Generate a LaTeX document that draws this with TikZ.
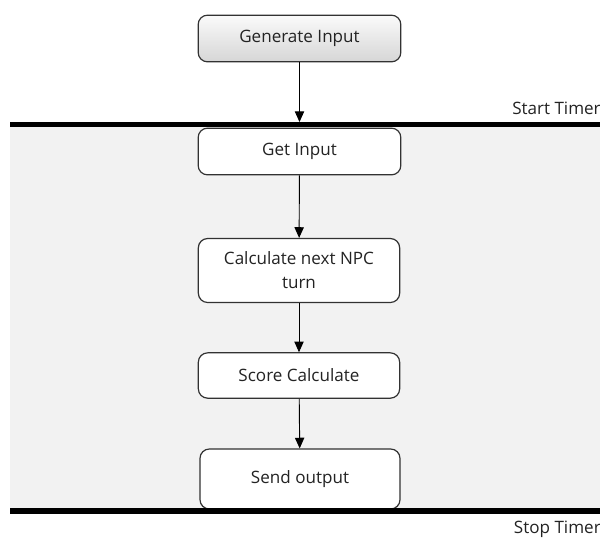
\documentclass[tikz,border=0pt]{standalone}
\usepackage{fontspec}
\setmainfont{Open Sans}
\usepackage{tikz}
\usetikzlibrary{arrows.meta,positioning}
\definecolor{FlowText}{RGB}{35,35,35}
\definecolor{FlowLine}{RGB}{50,50,50}
\definecolor{FlowZone}{RGB}{242,242,242}
\definecolor{FlowTop}{RGB}{250,250,250}
\definecolor{FlowBottom}{RGB}{214,214,214}

\begin{document}
\begin{tikzpicture}[x=0.75pt,y=-0.75pt,
    stepbox/.style={draw=FlowLine, fill=white, line width=0.9pt, rounded corners=7pt,
      minimum width=152pt, minimum height=35pt, align=center, font=\fontsize{12.8}{18}\selectfont, text=FlowText},
    genbox/.style={stepbox, top color=FlowTop, bottom color=FlowBottom},
    flow/.style={-{Triangle[length=8pt,width=7pt]}, line width=0.7pt, black},
    timer/.style={line width=3.8pt, black},
    timerlabel/.style={anchor=east, inner sep=0pt, font=\fontsize{12.8}{16}\selectfont, text=FlowText}
  ]
    \useasboundingbox (0,0) rectangle (600,537);
    \fill[FlowZone] (10,124) rectangle (600,511);
    \node[genbox] (gen) at (299.5,38.5) {Generate Input};
    \node[stepbox] (get) at (299.5,151.5) {Get Input};
    \node[stepbox, minimum width=151pt, minimum height=48pt] (calc) at (299,270.5) {Calculate next NPC\\turn};
    \node[stepbox, minimum width=151pt, minimum height=34pt] (score) at (299,375.5) {Score Calculate};
    \node[stepbox, minimum width=150pt, minimum height=45pt] (send) at (300,479) {Send output};
    \coordinate (startmark) at (299.5,122);
    \draw[flow] (gen) -- (startmark);
    \draw[flow] (get) -- (calc);
    \draw[flow] (calc) -- (score);
    \draw[flow] (score) -- (send);
    \draw[timer] (10,124.5) -- (600,124.5);
    \draw[timer] (10,511) -- (600,511);
    \node[timerlabel] (start) at (601,108) {Start Timer};
    \node[timerlabel] (stop) at (601,529) {Stop Timer};
  \end{tikzpicture}
\end{document}
